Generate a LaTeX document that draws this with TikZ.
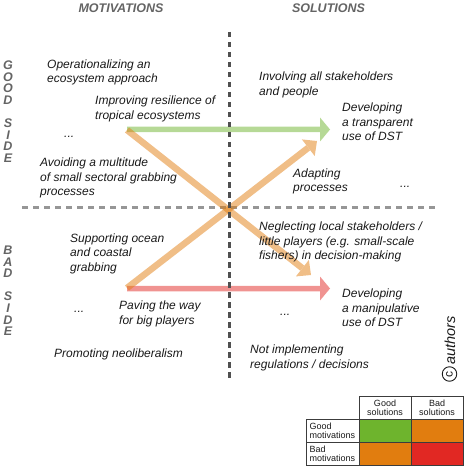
\documentclass[tikz,border=0pt]{standalone}
\usepackage{fontspec}
\setmainfont{Liberation Sans}
\usetikzlibrary{arrows.meta}
\definecolor{textc}{RGB}{25,25,25}
\definecolor{headc}{RGB}{100,100,100}
\definecolor{vdash}{RGB}{80,80,80}
\definecolor{hdash}{RGB}{150,150,150}
\definecolor{goodc}{RGB}{110,180,45}
\definecolor{midc}{RGB}{225,125,15}
\definecolor{badc}{RGB}{225,40,35}
\definecolor{gridc}{RGB}{60,60,60}
\begin{document}
\begin{tikzpicture}[x=1bp,y=-1bp,
 txt/.style={anchor=north west, inner sep=0pt, align=left, text=textc, font=\fontsize{12bp}{14.5bp}\selectfont\itshape},
 dots/.style={anchor=base west, inner sep=0pt, text=textc, font=\fontsize{12bp}{14.5bp}\selectfont\itshape},
 head/.style={inner sep=0pt, text=headc, font=\fontsize{12.5bp}{14bp}\selectfont\bfseries\itshape},
 sidelbl/.style={anchor=north, inner sep=0pt, align=center, text=headc, font=\fontsize{12.5bp}{11.6bp}\selectfont\bfseries\itshape},
 harrow/.style={line width=5.5bp, -{Triangle[line width=0pt,length=10bp,width=24bp]}},
 darrow/.style={line width=6.5bp, -{Triangle[line width=0pt,length=11bp,width=21bp]}},
 cell/.style={draw=gridc, line width=0.7bp, inner sep=0pt, minimum width=52bp, minimum height=23bp, align=center, font=\fontsize{9bp}{9.3bp}\selectfont, text=textc},
 lblcell/.style={cell, align=left, text width=46bp, inner xsep=3.5bp, minimum width=53bp},
 ]
\useasboundingbox (0,0) rectangle (467,468);

% headings
\node[head] (hm) at (121,8.3) {MOTIVATIONS};
\node[head] (hs) at (328.5,8.3) {SOLUTIONS};
\node[sidelbl] (good) at (8,60.7) {G\\O\\O\\D\\[11.6bp]S\\I\\D\\E};
\node[sidelbl] (bad) at (8,245.7) {B\\A\\D\\[11.6bp]S\\I\\D\\E};

% dashed axes and arrow ends
\coordinate (vT) at (229,32);
\coordinate (vB) at (229,382);
\coordinate (hL) at (22,208);
\coordinate (hR) at (437,208);
\coordinate (gS) at (127,129.5);
\coordinate (gE) at (330,129.5);
\coordinate (rS) at (127,288.5);
\coordinate (rE) at (330,288.5);
\coordinate (o1S) at (127,130);
\coordinate (o1E) at (311,275);
\coordinate (o2S) at (127,288);
\coordinate (o2E) at (317,141);

\draw[hdash, line width=3bp, dash pattern=on 6bp off 5bp] (hL) -- (hR);
\begin{scope}[transparency group, opacity=0.5]
\draw[harrow, goodc] (gS) -- (gE);
\end{scope}
\begin{scope}[transparency group, opacity=0.5]
\draw[harrow, badc] (rS) -- (rE);
\end{scope}
\begin{scope}[transparency group, opacity=0.5]
\draw[darrow, midc] (o1S) -- (o1E);
\end{scope}
\begin{scope}[transparency group, opacity=0.5]
\draw[darrow, midc] (o2S) -- (o2E);
\end{scope}
\draw[vdash, line width=3bp, dash pattern=on 5.5bp off 4.5bp] (vT) -- (vB);

% motivations, good side
\node[txt] (m1) at (47,59.3) {Operationalizing an\\ecosystem approach};
\node[txt] (m2) at (95,95.7) {Improving resilience of\\tropical ecosystems};
\node[dots] (m3) at (64,137.7) {...};
\node[txt] (m4) at (40,157.7) {Avoiding a multitude\\of small sectoral grabbing\\processes};
% motivations, bad side
\node[txt] (m5) at (70,233.3) {Supporting ocean\\and coastal\\grabbing};
\node[dots] (m6) at (74,312.7) {...};
\node[txt] (m7) at (119,301) {Paving the way\\for big players};
\node[txt] (m8) at (54,348.7) {Promoting neoliberalism};
% solutions, good side
\node[txt] (s1) at (259,71.7) {Involving all stakeholders\\and people};
\node[txt] (s2) at (342,103) {Developing\\a transparent\\use of DST};
\node[txt] (s3) at (293,168.3) {Adapting\\processes};
\node[dots] (s4) at (400,187.3) {...};
% solutions, bad side
\node[txt] (s5) at (259,222) {Neglecting local stakeholders /\\little players (e.g. small-scale\\fishers) in decision-making};
\node[txt] (s6) at (342,288.7) {Developing\\a manipulative\\use of DST};
\node[dots] (s7) at (280,315) {...};
\node[txt] (s8) at (250,344.7) {Not implementing\\regulations / decisions};

% copyright
\node[rotate=90, anchor=base west, inner sep=0pt, text=textc, font=\fontsize{14.5bp}{14.5bp}\selectfont\itshape] (auth) at (455,365) {authors};
\node[circle, draw=textc, line width=0.9bp, inner sep=0pt, minimum size=14.5bp, rotate=90, text=textc, font=\fontsize{12bp}{12bp}\selectfont] (copy) at (449.5,374) {c};

% legend table
\node[cell] (h1) at (385,407.5) {Good\\solutions};
\node[cell] (h2) at (437,407.5) {Bad\\solutions};
\node[lblcell] (l1) at (332.5,430.5) {Good\\motivations};
\node[lblcell] (l2) at (332.5,453.5) {Bad\\motivations};
\node[cell, fill=goodc] (c11) at (385,430.5) {};
\node[cell, fill=midc] (c12) at (437,430.5) {};
\node[cell, fill=midc] (c21) at (385,453.5) {};
\node[cell, fill=badc] (c22) at (437,453.5) {};
\end{tikzpicture}
\end{document}
